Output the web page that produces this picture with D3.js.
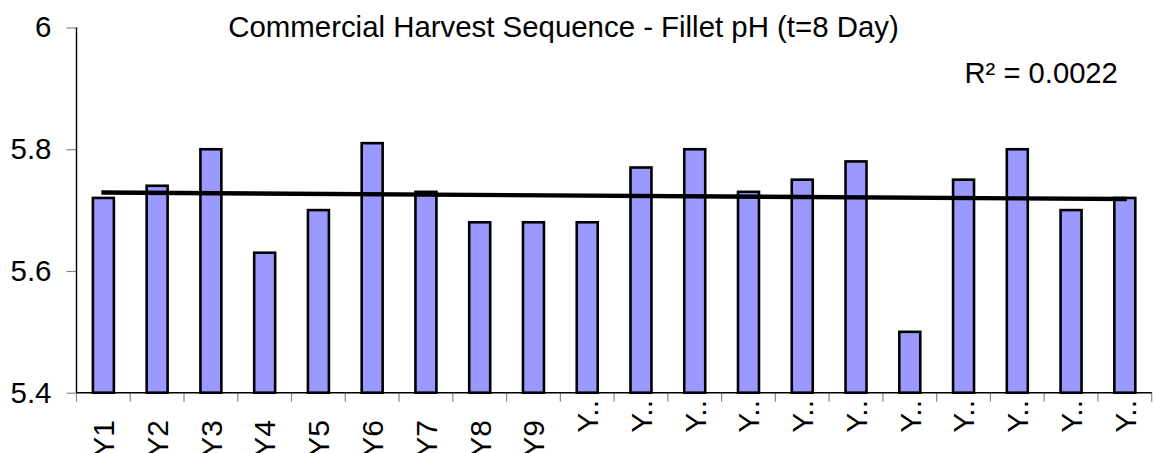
<!DOCTYPE html>
<html>
<head>
<meta charset="utf-8">
<script src="https://cdn.jsdelivr.net/npm/d3@7/dist/d3.min.js"></script>
<style>
  html, body { margin: 0; padding: 0; background: #ffffff; }
  svg { display: block; }
  text { font-family: "Liberation Sans", Arial, Helvetica, sans-serif; fill: #000; }
</style>
</head>
<body>
<svg id="chart" width="1155" height="453"></svg>
<script>
// Fillet pH per harvest, day 8
const categories = ["Y1","Y2","Y3","Y4","Y5","Y6","Y7","Y8","Y9","Y10",
                    "Y11","Y12","Y13","Y14","Y15","Y16","Y17","Y18","Y19","Y20"];
const phValues = [5.72, 5.74, 5.80, 5.63, 5.70, 5.81, 5.73, 5.68, 5.68, 5.68,
                  5.77, 5.80, 5.73, 5.75, 5.78, 5.50, 5.75, 5.80, 5.70, 5.72];
const yTicks = [5.4, 5.6, 5.8, 6];
const chartTitle = "Commercial Harvest Sequence - Fillet pH (t=8 Day)";
const rSquaredLabel = "R\u00B2 = 0.0022";

const svg = d3.select("#chart");
const plotLeft = 76.5, plotRight = 1151.7, plotTop = 27.5, plotBottom = 392.7;

const x = d3.scaleBand().domain(categories).range([plotLeft, plotRight]).padding(0);
const y = d3.scaleLinear().domain([5.4, 6]).range([plotBottom, plotTop]);

const barW = x.bandwidth() * 0.39;

// bars
svg.append("g").selectAll("rect")
  .data(categories.map((c, i) => ({ c, v: phValues[i] })))
  .join("rect")
  .attr("x", d => x(d.c) + (x.bandwidth() - barW) / 2)
  .attr("y", d => y(d.v))
  .attr("width", barW)
  .attr("height", d => y(5.4) - y(d.v))
  .attr("fill", "#9999ff")
  .attr("stroke", "#000")
  .attr("stroke-width", 2.6);

// linear least-squares trend over the harvest index
const n = phValues.length;
const xs = d3.range(1, n + 1);
const mx = d3.mean(xs), my = d3.mean(phValues);
const slope = d3.sum(xs, (xi, i) => (xi - mx) * (phValues[i] - my)) /
              d3.sum(xs, xi => (xi - mx) * (xi - mx));
const intercept = my - slope * mx;
const trend = [1, n].map(k => ({ c: categories[k - 1], v: intercept + slope * k }));

svg.append("path")
  .datum(trend)
  .attr("d", d3.line()
    .x((d, i) => x(d.c) + x.bandwidth() / 2 + (i === 0 ? -2 : 2))
    .y(d => y(d.v)))
  .attr("fill", "none")
  .attr("stroke", "#000")
  .attr("stroke-width", 4.4);

// y axis
const yAxis = svg.append("g")
  .attr("transform", `translate(${plotLeft},0)`)
  .call(d3.axisLeft(y).tickValues(yTicks).tickSize(10).tickPadding(15)
        .tickFormat(d => d3.format("")(d)));
yAxis.select(".domain").remove();
yAxis.selectAll(".tick line").attr("stroke", "#888").attr("stroke-width", 1.2);
yAxis.selectAll(".tick text").attr("font-size", 29.5)
  .style("font-family", "'Liberation Sans', Arial, sans-serif");

svg.append("line")
  .attr("x1", plotLeft).attr("x2", plotLeft).attr("y1", plotTop).attr("y2", plotBottom)
  .attr("stroke", "#000").attr("stroke-width", 1.4);

// x axis: boundary ticks between categories
svg.append("g").selectAll("line")
  .data(categories.concat(["__end"]))
  .join("line")
  .attr("x1", d => d === "__end" ? plotRight : x(d))
  .attr("x2", d => d === "__end" ? plotRight : x(d))
  .attr("y1", plotBottom).attr("y2", plotBottom + 9)
  .attr("stroke", "#888").attr("stroke-width", 1.2);

svg.append("line")
  .attr("x1", plotLeft).attr("x2", plotRight).attr("y1", plotBottom).attr("y2", plotBottom)
  .attr("stroke", "#000").attr("stroke-width", 1.4);

// category labels, rotated; long names are shortened to fit
svg.append("g").selectAll("text")
  .data(categories)
  .join("text")
  .attr("transform", d => {
    const cx = x(d) + x.bandwidth() / 2;
    const ty = d.length > 2 ? 400 : 420;
    return `translate(${cx},${ty}) rotate(-90)`;
  })
  .attr("text-anchor", "end")
  .attr("dy", "0.36em")
  .attr("font-size", 30)
  .text(d => d.length > 2 ? d[0] + ".." : d);

// title and fit statistic
svg.append("text")
  .attr("x", 563.5).attr("y", 37)
  .attr("text-anchor", "middle")
  .attr("font-size", 29.4)
  .text(chartTitle);

svg.append("text")
  .attr("x", 964.5).attr("y", 82.5)
  .attr("font-size", 29.2)
  .text(rSquaredLabel);
</script>
</body>
</html>
